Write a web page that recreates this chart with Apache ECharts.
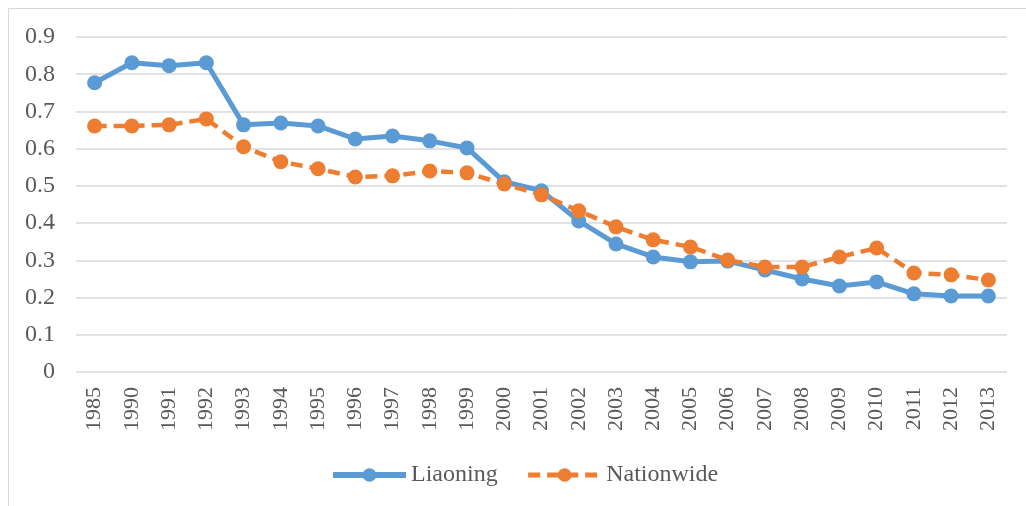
<!DOCTYPE html>
<html><head><meta charset="utf-8">
<script src="https://cdn.jsdelivr.net/npm/echarts@6/dist/echarts.min.js"></script>
<style>html,body{margin:0;padding:0;background:#fff}#c{width:1026px;height:506px}</style>
</head><body><div id="c"></div>
<script>
var years = ['1985','1990','1991','1992','1993','1994','1995','1996','1997','1998','1999','2000','2001','2002','2003','2004','2005','2006','2007','2008','2009','2010','2011','2012','2013'];
var liaoning = [0.777,0.831,0.823,0.831,0.664,0.669,0.661,0.626,0.634,0.621,0.602,0.511,0.487,0.406,0.344,0.309,0.296,0.298,0.274,0.250,0.231,0.242,0.210,0.204,0.204];
var nationwide = [0.661,0.661,0.664,0.680,0.605,0.565,0.546,0.524,0.527,0.540,0.535,0.505,0.476,0.433,0.390,0.355,0.336,0.301,0.282,0.282,0.309,0.333,0.266,0.261,0.247];
var yTicks = { min: 0, max: 0.9, interval: 0.1 };

var chart = echarts.init(document.getElementById('c'));
var font = '"Liberation Serif", "Times New Roman", serif';
chart.setOption({
  animation: false,
  graphic: [{ type: 'rect', shape: { x: 8.5, y: 8.5, width: 1100, height: 600 }, style: { fill: 'none', stroke: '#d9d9d9', lineWidth: 1 }, silent: true }],
  grid: { left: 76, right: 19, top: 37, bottom: 134 },
  legend: {
    bottom: 14, left: 325, itemWidth: 73, itemHeight: 17, itemGap: 28,
    textStyle: { fontFamily: font, fontSize: 24, color: '#595959' },
    data: [
      { name: 'Liaoning', lineStyle: { width: 6 } },
      { name: 'Nationwide', lineStyle: { width: 5 } }
    ]
  },
  xAxis: {
    type: 'category', data: years, boundaryGap: true,
    axisLine: { show: false }, axisTick: { show: false },
    axisLabel: { rotate: 90, fontFamily: font, fontSize: 22, color: '#595959', margin: 15 }
  },
  yAxis: {
    type: 'value', min: yTicks.min, max: yTicks.max, interval: yTicks.interval,
    axisLine: { show: false }, axisTick: { show: false },
    splitLine: { lineStyle: { color: '#d9d9d9', width: 1.5 } },
    axisLabel: { fontFamily: font, fontSize: 24, color: '#595959', margin: 21,
      formatter: function (v) { return Math.round(v * 10) / 10 + ''; } }
  },
  series: [
    { name: 'Liaoning', type: 'line', data: liaoning, symbol: 'circle', symbolSize: 15,
      lineStyle: { color: '#5B9BD5', width: 5 }, itemStyle: { color: '#5B9BD5' } },
    { name: 'Nationwide', type: 'line', data: nationwide, symbol: 'circle', symbolSize: 15,
      lineStyle: { color: '#ED7D31', width: 4.5, type: [12, 7] }, itemStyle: { color: '#ED7D31' } }
  ]
});
</script></body></html>
